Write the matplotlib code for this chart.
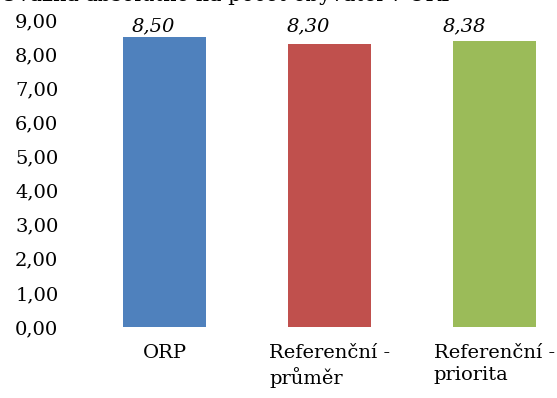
import matplotlib.pyplot as plt

kategorie = ['ORP', 'Referenční -\nprůměr', 'Referenční -\npriorita']
hodnoty = [8.50, 8.30, 8.38]
barvy = ['#4F81BD', '#C0504D', '#9BBB59']
popisky = ['8,50', '8,30', '8,38']
posun_popisku = [-8, -15, -22]  # Excel posunulo popisky doleva

plt.rcParams['font.family'] = ['DejaVu Serif']

fig = plt.figure(figsize=(5.57, 3.98), dpi=100)
ax = fig.add_axes([82/557, 1 - 327/398, 495/557, 307/398])

x = range(len(kategorie))
ax.bar(x, hodnoty, width=0.5, color=barvy)
for i, t in enumerate(popisky):
    ax.annotate(t, (i, 8.8), xytext=(posun_popisku[i], 0), textcoords='offset points',
                ha='center', va='center', style='italic', fontsize=14)

ax.set_xlim(-0.5, 2.5)
ax.set_ylim(0, 9)
ax.set_yticks(range(10))
ax.set_yticklabels(['%d,00' % v for v in range(10)], fontsize=14)
ax.set_xticks(list(x))
ax.set_xticklabels(kategorie, fontsize=14, va='top', multialignment='left', linespacing=1.3)
ax.tick_params(length=0, pad=12)
ax.tick_params(axis='y', pad=17)
for s in ax.spines.values():
    s.set_visible(False)

fig.text(0.0, 1.018, 'Úvazná absolutně na počet obyvatel v ORP', ha='left', va='center', fontsize=15)

fig.savefig('out.png', dpi=100)
